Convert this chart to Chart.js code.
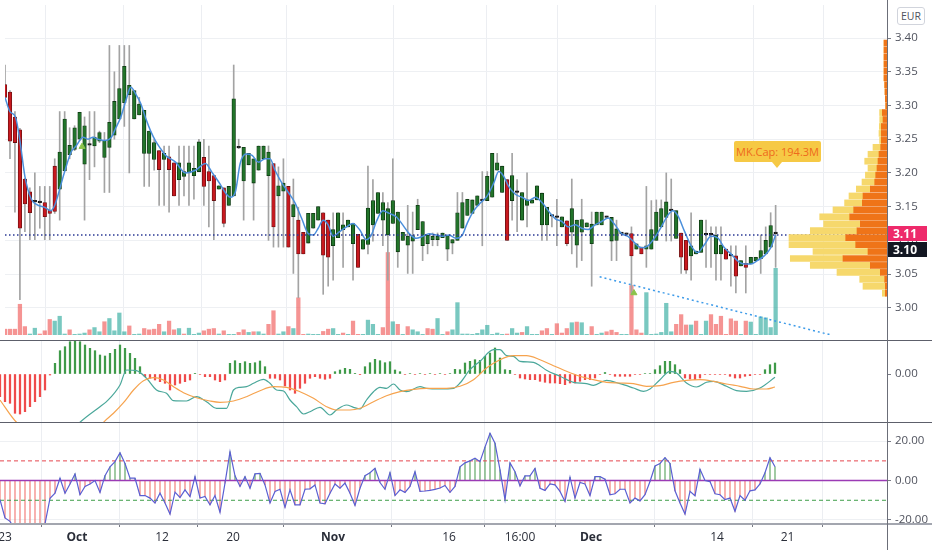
<!DOCTYPE html>
<html lang="en">
<head>
<meta charset="UTF-8">
<title>Chart</title>
<script src="https://cdn.jsdelivr.net/npm/chart.js"></script>
<style>
  html, body { margin: 0; padding: 0; background: #fff; }
  #wrap { position: relative; width: 932px; height: 550px; overflow: hidden; font-family: "Open Sans", Arial, sans-serif; }
  #wrap canvas { position: absolute; }
  .sep { position: absolute; left: 0; width: 932px; height: 1px; background: #5d606b; }
  .vsep { position: absolute; left: 887px; top: 0; width: 1px; height: 550px; background: #6b6e78; }
  .tag { position: absolute; left: 888px; width: 34px; height: 15px; line-height: 15px; padding-left: 5px; color: #fff; font-size: 12px; font-weight: bold; }
  #eur { position: absolute; left: 897px; top: 7px; width: 26px; height: 16px; line-height: 16px; border: 1px solid #d1d4dc; border-radius: 3px; text-align: center; font-size: 10.5px; color: #50535e; background: #fff; }
  #mkcap { position: absolute; left: 734px; top: 141px; width: 87px; height: 21px; line-height: 21px; background: #f6c945; color: #ee6a1c; font-size: 11px; text-align: center; border-radius: 2px; }
  #mkcap:after { content: ""; position: absolute; left: 38px; top: 21px; border-left: 5px solid transparent; border-right: 5px solid transparent; border-top: 6px solid #f6c945; }
</style>
</head>
<body>
<div id="wrap">
  <canvas id="mainChart" width="932" height="340" style="left:0;top:0"></canvas>
  <canvas id="profileChart" width="200" height="340" style="left:687px;top:0"></canvas>
  <canvas id="macdChart" width="932" height="81" style="left:0;top:341px"></canvas>
  <canvas id="oscChart" width="932" height="127" style="left:0;top:423px"></canvas>
  <div class="sep" style="top:340px"></div>
  <div class="sep" style="top:422px"></div>
  <div class="sep" style="top:523px;height:2px;background:#a3a6af"></div>
  <div class="vsep"></div>
  <div id="eur">EUR</div>
  <div id="mkcap">MK.Cap: 194.3M</div>
  <div class="tag" id="tagLast" style="background:#ee2a6b"></div>
  <div class="tag" id="tagClose" style="background:#131722"></div>
</div>

<script>
// time axis
const tickPos = [1, 15.4, 32.4, 46.6, 66.6, 89.8, 104, 118.2, 143.4, 157.5];
const tickLabels = ['23', 'Oct', '12', '20', 'Nov', '16', '16:00', 'Dec', '14', '21'];
const boldLabels = ['Oct', 'Nov', 'Dec'];
const priceTicks = [3.00, 3.05, 3.10, 3.15, 3.20, 3.25, 3.30, 3.35, 3.40];

// candles, one per bar
const candleOpen = [
  3.331, 3.32, 3.283, 3.264, 3.191, 3.172, 3.157, 3.156, 3.156, 3.145,
  3.21, 3.176, 3.203, 3.227, 3.235, 3.25, 3.213, 3.241, 3.24, 3.247,
  3.223, 3.238, 3.256, 3.28, 3.304, 3.316, 3.28, 3.286, 3.229, 3.229,
  3.22, 3.233, 3.22, 3.224, 3.215, 3.19, 3.195, 3.20, 3.196, 3.202,
  3.223, 3.202, 3.196, 3.176, 3.178, 3.152, 3.166, 3.237, 3.188, 3.212,
  3.185, 3.204, 3.221, 3.196, 3.214, 3.166, 3.173, 3.18, 3.135, 3.13,
  3.112, 3.096, 3.118, 3.13, 3.141, 3.13, 3.092, 3.104, 3.116, 3.12,
  3.095, 3.109, 3.087, 3.094, 3.123, 3.14, 3.13, 3.108, 3.125, 3.083,
  3.10, 3.093, 3.099, 3.116, 3.092, 3.095, 3.101, 3.101, 3.104, 3.087,
  3.096, 3.10, 3.118, 3.137, 3.14, 3.152, 3.159, 3.159, 3.164, 3.204,
  3.171, 3.19, 3.159, 3.171, 3.13, 3.152, 3.155, 3.16, 3.123, 3.123,
  3.136, 3.134, 3.12, 3.129, 3.112, 3.093, 3.112, 3.12, 3.095, 3.123,
  3.123, 3.134, 3.099, 3.10, 3.11, 3.109, 3.11, 3.087, 3.09, 3.087,
  3.087, 3.10, 3.12, 3.134, 3.144, 3.103, 3.111, 3.10, 3.077, 3.08,
  3.082, 3.108, 3.108, 3.08, 3.08, 3.087, 3.077, 3.077, 3.062, 3.066,
  3.065, 3.07, 3.073, 3.08, 3.09, 3.11
];
const candleHigh = [
  3.36, 3.322, 3.291, 3.266, 3.192, 3.178, 3.20, 3.18, 3.18, 3.18,
  3.221, 3.291, 3.291, 3.267, 3.27, 3.29, 3.283, 3.291, 3.291, 3.262,
  3.26, 3.389, 3.35, 3.389, 3.389, 3.389, 3.322, 3.312, 3.293, 3.262,
  3.25, 3.233, 3.24, 3.24, 3.215, 3.24, 3.24, 3.24, 3.24, 3.25,
  3.25, 3.24, 3.196, 3.181, 3.178, 3.18, 3.36, 3.25, 3.238, 3.229,
  3.221, 3.24, 3.24, 3.24, 3.214, 3.209, 3.221, 3.18, 3.191, 3.149,
  3.112, 3.14, 3.14, 3.15, 3.141, 3.13, 3.141, 3.141, 3.141, 3.13,
  3.125, 3.109, 3.101, 3.21, 3.19, 3.171, 3.171, 3.156, 3.221, 3.142,
  3.112, 3.152, 3.142, 3.161, 3.128, 3.108, 3.111, 3.111, 3.111, 3.107,
  3.101, 3.171, 3.171, 3.161, 3.16, 3.166, 3.202, 3.202, 3.229, 3.229,
  3.21, 3.19, 3.229, 3.19, 3.171, 3.20, 3.16, 3.181, 3.17, 3.149,
  3.136, 3.161, 3.135, 3.129, 3.191, 3.13, 3.161, 3.126, 3.142, 3.142,
  3.142, 3.136, 3.134, 3.13, 3.112, 3.111, 3.12, 3.095, 3.09, 3.18,
  3.159, 3.16, 3.16, 3.20, 3.191, 3.144, 3.111, 3.10, 3.141, 3.084,
  3.13, 3.13, 3.12, 3.12, 3.12, 3.087, 3.092, 3.092, 3.07, 3.092,
  3.075, 3.075, 3.108, 3.12, 3.141, 3.152
];
const candleLow = [
  3.31, 3.221, 3.142, 3.012, 3.113, 3.101, 3.101, 3.118, 3.101, 3.101,
  3.14, 3.13, 3.203, 3.221, 3.233, 3.248, 3.13, 3.19, 3.209, 3.245,
  3.171, 3.171, 3.25, 3.28, 3.269, 3.20, 3.28, 3.286, 3.18, 3.18,
  3.204, 3.152, 3.152, 3.142, 3.166, 3.152, 3.166, 3.152, 3.161, 3.202,
  3.152, 3.12, 3.101, 3.176, 3.12, 3.152, 3.166, 3.236, 3.13, 3.212,
  3.13, 3.204, 3.221, 3.10, 3.09, 3.09, 3.09, 3.09, 3.051, 3.015,
  3.08, 3.096, 3.118, 3.13, 3.02, 3.032, 3.041, 3.104, 3.06, 3.12,
  3.041, 3.06, 3.087, 3.08, 3.099, 3.14, 3.092, 3.041, 3.125, 3.06,
  3.10, 3.051, 3.051, 3.116, 3.07, 3.08, 3.092, 3.092, 3.104, 3.07,
  3.08, 3.10, 3.118, 3.137, 3.14, 3.152, 3.092, 3.159, 3.164, 3.204,
  3.171, 3.10, 3.13, 3.113, 3.13, 3.12, 3.155, 3.16, 3.10, 3.10,
  3.12, 3.092, 3.12, 3.092, 3.08, 3.06, 3.07, 3.12, 3.032, 3.123,
  3.123, 3.132, 3.07, 3.07, 3.108, 3.107, 3.02, 3.087, 3.08, 3.06,
  3.087, 3.10, 3.12, 3.099, 3.099, 3.103, 3.051, 3.051, 3.041, 3.08,
  3.082, 3.06, 3.06, 3.041, 3.041, 3.072, 3.032, 3.022, 3.062, 3.022,
  3.065, 3.07, 3.051, 3.08, 3.09, 3.06
];
const candleClose = [
  3.312, 3.247, 3.245, 3.118, 3.154, 3.141, 3.157, 3.156, 3.135, 3.14,
  3.143, 3.231, 3.28, 3.241, 3.267, 3.29, 3.27, 3.241, 3.253, 3.26,
  3.248, 3.275, 3.306, 3.325, 3.358, 3.33, 3.322, 3.302, 3.293, 3.262,
  3.245, 3.205, 3.229, 3.205, 3.166, 3.215, 3.202, 3.215, 3.207, 3.246,
  3.18, 3.188, 3.159, 3.181, 3.125, 3.18, 3.31, 3.237, 3.238, 3.229,
  3.221, 3.24, 3.24, 3.231, 3.12, 3.181, 3.185, 3.09, 3.153, 3.08,
  3.08, 3.14, 3.14, 3.15, 3.078, 3.075, 3.116, 3.141, 3.123, 3.13,
  3.125, 3.06, 3.101, 3.148, 3.159, 3.171, 3.156, 3.147, 3.159, 3.142,
  3.112, 3.106, 3.107, 3.152, 3.128, 3.108, 3.106, 3.106, 3.111, 3.107,
  3.101, 3.141, 3.156, 3.161, 3.16, 3.166, 3.159, 3.195, 3.229, 3.215,
  3.21, 3.10, 3.196, 3.171, 3.171, 3.16, 3.16, 3.181, 3.17, 3.149,
  3.136, 3.134, 3.135, 3.095, 3.147, 3.13, 3.131, 3.126, 3.124, 3.142,
  3.142, 3.134, 3.134, 3.117, 3.11, 3.109, 3.077, 3.095, 3.08, 3.092,
  3.116, 3.142, 3.147, 3.157, 3.144, 3.144, 3.075, 3.056, 3.092, 3.084,
  3.13, 3.108, 3.108, 3.108, 3.093, 3.072, 3.077, 3.047, 3.07, 3.06,
  3.075, 3.075, 3.085, 3.10, 3.122, 3.11
];

// volume per bar and its side (u = buying, d = selling)
const volume = [
  18, 18, 18, 95, 26, 3, 21, 3, 13, 48,
  43, 58, 3, 16, 2, 3, 6, 16, 23, 10,
  41, 51, 13, 68, 10, 28, 2, 3, 20, 16,
  18, 33, 10, 43, 16, 20, 3, 21, 2, 6,
  13, 18, 20, 3, 13, 2, 2, 8, 16, 8,
  10, 10, 3, 33, 75, 3, 10, 26, 20, 115,
  2, 3, 2, 2, 11, 18, 20, 2, 6, 2,
  43, 2, 2, 46, 33, 2, 23, 255, 41, 33,
  2, 26, 16, 10, 2, 20, 18, 51, 2, 10,
  16, 100, 3, 3, 2, 5, 16, 30, 2, 6,
  2, 3, 20, 6, 8, 26, 2, 2, 13, 20,
  2, 35, 6, 20, 38, 40, 38, 2, 26, 2,
  6, 10, 15, 8, 2, 2, 153, 16, 6, 131,
  2, 3, 8, 98, 10, 33, 63, 31, 31, 43,
  2, 43, 63, 33, 58, 2, 50, 43, 2, 43,
  40, 2, 56, 53, 23, 206
];
const volumeSide = ('ddddduuddd' + 'uuuduuuduu' + 'duuuuduudd' + 'ddudduduuu' +
  'ddduduuddu' + 'duudduudud' + 'duuudduudu' + 'dduuuuddud' +
  'uduuudduud' + 'uuuuuuuuuu' + 'uduuduuudd' + 'uddduduudu' +
  'uddduudddu' + 'uuuuudddud' + 'uuddddddud' + 'uuuuuu').split('');

// moving average over the candles, read at [bar, price]
const maLine = [
  [0, 3.312], [1, 3.291], [2.1, 3.283], [3, 3.248], [4, 3.195], [5.3, 3.161], [6.7, 3.152], [8, 3.149],
  [9.2, 3.144], [10, 3.152], [11, 3.176], [12, 3.202], [13.3, 3.231], [14.3, 3.24], [15.7, 3.253],
  [16.7, 3.25], [17.7, 3.253], [18.7, 3.25], [20, 3.248], [21.3, 3.252], [22.3, 3.267], [23.3, 3.283],
  [24.3, 3.307], [25.3, 3.327], [26.3, 3.317], [27.3, 3.303], [28.3, 3.281], [29.3, 3.262], [30.3, 3.247],
  [31.3, 3.236], [32.3, 3.226], [34.3, 3.216], [36.3, 3.20], [38.3, 3.204], [40.3, 3.214], [41.7, 3.20],
  [43.3, 3.183], [44.3, 3.171], [45.3, 3.164], [46.3, 3.171], [47.3, 3.214], [48.5, 3.228], [49.7, 3.226],
  [51, 3.216], [52.3, 3.221], [53.3, 3.221], [54.3, 3.204], [55.7, 3.185], [57, 3.171], [58.3, 3.156],
  [59.7, 3.132], [61, 3.11], [62, 3.108], [63, 3.118], [64, 3.13], [65, 3.123], [66, 3.106], [67.3, 3.113],
  [68.7, 3.12], [70, 3.125], [71.3, 3.116], [72.7, 3.101], [73.7, 3.108], [74.7, 3.128], [76, 3.144],
  [77.3, 3.14], [78.7, 3.135], [80, 3.123], [81.3, 3.11], [82.7, 3.103], [84, 3.106], [85.3, 3.11],
  [86.7, 3.108], [88, 3.106], [89.3, 3.108], [90.7, 3.103], [92, 3.108], [93, 3.126], [94.3, 3.144],
  [95.7, 3.156], [97, 3.166], [98.3, 3.185], [99.3, 3.202], [100.3, 3.195], [101.3, 3.18], [102.7, 3.168],
  [104, 3.164], [105.3, 3.159], [106.7, 3.164], [108, 3.156], [109.7, 3.14], [110.7, 3.132], [112, 3.128],
  [113.3, 3.12], [114.7, 3.123], [116, 3.118], [117.3, 3.116], [118.7, 3.123], [120, 3.128], [121.3, 3.133],
  [122.7, 3.123], [124, 3.11], [125.3, 3.106], [126.7, 3.096], [128, 3.089], [129.3, 3.092], [130.7, 3.104],
  [132, 3.12], [133.3, 3.137], [134.3, 3.144], [135.3, 3.137], [136.7, 3.113], [138, 3.092], [139.3, 3.082],
  [140.7, 3.094], [142, 3.106], [143.3, 3.104], [144.7, 3.089], [146, 3.08], [147.3, 3.07], [148.7, 3.065],
  [150, 3.065], [151.3, 3.07], [152.7, 3.077], [154, 3.089], [155, 3.108]
];

// price marks
const lastPrice = 3.11;
const closeLabel = 3.10;
const priceLine = 3.108;
const trendLine = [[119.6, 3.046], [166, 2.96]];
const signalMarks = [[15.5, 3.239], [126.5, 3.022]];

// volume profile rows: price, up part (orange), down part (yellow)
const profilePrice = [
  3.387, 3.377, 3.367, 3.357, 3.347, 3.337, 3.327, 3.317, 3.307, 3.297,
  3.287, 3.277, 3.267, 3.257, 3.247, 3.237, 3.227, 3.217, 3.207, 3.197,
  3.187, 3.177, 3.167, 3.157, 3.147, 3.137, 3.127, 3.117, 3.107, 3.097,
  3.087, 3.077, 3.067, 3.057, 3.047, 3.037, 3.027
];
const profileUp = [
  3, 3, 3, 3, 3, 3, 2.3, 2, 1.7, 1.3,
  4.7, 4, 5.7, 5.7, 5.7, 6.3, 8, 9, 10, 11.3,
  12.3, 16.7, 24, 24.7, 33.3, 37.3, 26.7, 30, 41.3, 31.3,
  19, 44, 16.7, 6.7, 2.3, 1.7, 1.7
];
const profileDown = [
  0, 0, 0, 0, 0, 0, 0, 0, 0, 0,
  2.7, 3.3, 2, 2.3, 1.7, 7.7, 11, 13.3, 9, 10.3,
  12.7, 14, 14, 17.7, 20.7, 30, 36.7, 46.7, 56.7, 66.7,
  55, 52.7, 60, 43.3, 25, 22.3, 3
];

// MACD pane
const macdHist = [
  -0.0227, -0.0277, -0.0293, -0.0393, -0.0400, -0.0377, -0.0327, -0.0277, -0.0227, -0.0160,
  -0.0010, 0.0107, 0.0233, 0.0273, 0.0323, 0.0340, 0.0323, 0.0290, 0.0257, 0.0233,
  0.0190, 0.0180, 0.0207, 0.0247, 0.0290, 0.0257, 0.0207, 0.0157, 0.0073, -0.0027,
  -0.0043, -0.0060, -0.0077, -0.0093, -0.0160, -0.0110, -0.0093, -0.0077, -0.0060, 0.0007,
  -0.0005, -0.0027, -0.0027, -0.0060, -0.0077, -0.0060, 0.0107, 0.0133, 0.0107, 0.0123,
  0.0107, 0.0113, 0.0130, 0.0073, -0.0043, -0.0043, -0.0060, -0.0120, -0.0160, -0.0193,
  -0.0143, -0.0093, -0.0043, -0.0027, -0.0043, -0.0053, -0.0043, 0.0023, 0.0040, 0.0057,
  0.0047, 0.0007, -0.0003, 0.0073, 0.0113, 0.0147, 0.0133, 0.0113, 0.0123, 0.0040,
  0.0023, -0.0005, 0.0005, -0.0005, 0.0005, -0.0005, 0.0005, -0.0005, 0.0005, -0.0005,
  0.0005, 0.0047, 0.0043, 0.0110, 0.0127, 0.0143, 0.0137, 0.0177, 0.0210, 0.0260,
  0.0160, 0.0043, 0.0037, -0.0005, -0.0040, -0.0050, -0.0057, -0.0057, -0.0073, -0.0083,
  -0.0090, -0.0090, -0.0097, -0.0107, -0.0090, -0.0090, -0.0073, -0.0057, -0.0057, -0.0040,
  -0.0005, 0.0015, -0.0005, -0.0023, -0.0023, -0.0023, -0.0023, -0.0005, -0.0005, 0.0005,
  0.0005, 0.0043, 0.0083, 0.0127, 0.0127, 0.0093, 0.0043, -0.0040, -0.0050, -0.0057,
  -0.0040, -0.0005, -0.0005, -0.0005, -0.0005, -0.0005, -0.0023, -0.0040, -0.0040, -0.0023,
  -0.0017, -0.0005, -0.0005, 0.0043, 0.0093, 0.0110
];
const macdLine = [
  [0, -0.0487], [4, -0.075], [8, -0.082], [12, -0.070], [16, -0.0483], [20, -0.0327], [21.3, -0.0277],
  [24, -0.011], [25.3, 0.004], [27.3, 0.0033], [29.3, -0.0043], [31.3, -0.016], [33.3, -0.0193],
  [34.7, -0.0267], [37.3, -0.027], [39.3, -0.0227], [41.3, -0.0277], [43.3, -0.0343], [45.3, -0.0343],
  [46.7, -0.016], [48, -0.0133], [49.3, -0.0127], [50.7, -0.0093], [52.7, -0.0053], [54, -0.0093],
  [55.3, -0.016], [56.7, -0.017], [58, -0.026], [59.3, -0.0327], [60.7, -0.040], [62, -0.0377],
  [64, -0.0333], [66, -0.041], [67.3, -0.036], [69.3, -0.031], [70.7, -0.0333], [72, -0.035],
  [73.3, -0.026], [74.7, -0.0177], [76, -0.0133], [77.3, -0.0143], [78.7, -0.010], [80, -0.016],
  [81.3, -0.0177], [84, -0.0127], [85.3, -0.0143], [88, -0.015], [90.7, -0.0143], [92, -0.009],
  [94, 0.0043], [96, 0.0127], [98.7, 0.0243], [100, 0.0243], [101.3, 0.0183], [102.7, 0.0177],
  [104, 0.0127], [106.7, 0.0117], [108, 0.0083], [109.3, 0.0037], [112, -0.0023], [114.7, -0.0083],
  [117.3, -0.0097], [118.7, -0.0113], [121.3, -0.0063], [124, -0.0097], [126.7, -0.014], [128.7, -0.0173],
  [130, -0.015], [132, -0.0057], [134, 0.0027], [135.3, 0.001], [137.3, -0.009], [139.3, -0.013],
  [141.3, -0.0083], [142.7, -0.0073], [145.3, -0.0123], [147.3, -0.0167], [149.3, -0.0173], [152, -0.014],
  [155, -0.0033]
];
const signalLine = [
  [0, -0.026], [3.3, -0.0483], [8, -0.062], [12, -0.085], [16, -0.080], [20.7, -0.0483], [22.7, -0.0393],
  [24.7, -0.0287], [26.7, -0.016], [28.7, -0.0067], [30.7, -0.0037], [32.7, -0.006], [34.7, -0.0127],
  [36.7, -0.0187], [39.3, -0.0237], [42, -0.027], [44, -0.0283], [46.7, -0.027], [49.3, -0.0227],
  [52, -0.0167], [54.7, -0.0127], [57.3, -0.0133], [60, -0.0177], [62.7, -0.0243], [65.3, -0.0327],
  [67.3, -0.036], [70, -0.036], [72, -0.0343], [74.7, -0.0277], [77.3, -0.0217], [80, -0.0177],
  [82.7, -0.0153], [85.3, -0.0143], [89.3, -0.0143], [92, -0.0123], [94.7, -0.0057], [97.3, 0.006],
  [100, 0.0143], [102.7, 0.0183], [105.3, 0.0183], [108, 0.0143], [110.7, 0.0083], [113.3, 0.0027],
  [116, -0.0023], [118.7, -0.0057], [121.3, -0.0083], [124, -0.009], [126.7, -0.0097], [129.3, -0.0123],
  [132, -0.0117], [134.7, -0.0083], [137.3, -0.0063], [140, -0.0057], [142.7, -0.0073], [145.3, -0.010],
  [148, -0.0123], [150.7, -0.015], [153.3, -0.015], [155, -0.013]
];

// oscillator pane
const oscValues = [
  -9.7, -19, -20.7, -25, -27, -28, -26, -25, -24, -22,
  -9, -6.4, 1.2, -6.4, -1.7, 3.4, -7.2, -3, -1.7, 0,
  -6, 2.5, 7, 9.6, 14.1, 8.7, 1.2, 1.2, -7.6, -7.6,
  -8.9, -11.4, -6.4, -11.4, -17, -5.9, -8.6, -4.7, -8.1, 2,
  -8.9, -8.1, -12.3, -7.6, -16.1, -1.3, 14.6, 2.4, -3, 2,
  -3.9, 3.4, 3.7, -2.2, -11.4, -5.5, -4.4, -13.6, -4.7, -12.3,
  -12.3, -4.4, -4.2, -2.2, -11.4, -11.8, -6.4, -1.7, -3.9, -1.3,
  -6.4, -12.6, -3.9, 2.5, 4, 6.2, -1, -4.4, 4, -7.6,
  -4.7, -6, -3, 4.5, -5.5, -5.3, -5, -4.5, -3.8, -2.5,
  -6, -3, 7, 9, 10, 11.3, 9.6, 17, 24, 19,
  5.4, -9.7, 9, 4.5, -2.7, 2.4, 2.4, 6.2, -3.9, -5,
  -1.7, -2.2, -5.5, -10.6, 1.7, -8.9, -1, -1.7, -7.6, 2,
  2, 0.7, -7.2, -6.7, -4.4, -4.4, -11.4, -8.9, -10.3, -7.2,
  -0.5, 7.4, 8.7, 11.6, 8.7, -5.2, -11.4, -17, -5.5, -7.7,
  5.7, 0, -0.5, -6.7, -7.2, -9.7, -8.9, -15.6, -7.6, -10,
  -5.2, -4.7, -1.7, 4, 11.6, 7
];
const oscUpper = 10;
const oscLower = -10;
const oscTicks = [-20, 0, 20];

const X_MAX = 177.4;

function xScale(withLabels) {
  return {
    type: 'linear',
    min: 0,
    max: X_MAX,
    offset: false,
    afterBuildTicks: s => { s.ticks = tickPos.map(v => ({ value: v })); },
    afterFit: s => {
      s.paddingLeft = 0;
      s.paddingRight = 0;
      s.height = withLabels ? 27 : 0;
    },
    grid: { color: '#eceef2', drawTicks: withLabels, tickLength: 4, tickColor: '#787b86' },
    border: { display: false },
    ticks: {
      display: withLabels,
      autoSkip: false,
      maxRotation: 0,
      padding: 3,
      color: '#2a2e39',
      font: c => ({ size: 12, weight: boldLabels.includes(tickLabels[c.index]) ? 'bold' : 'normal' }),
      callback: (v, i) => tickLabels[i]
    }
  };
}

function yScale(min, max, ticks, gridColor) {
  return {
    position: 'right',
    min: min,
    max: max,
    afterBuildTicks: s => { s.ticks = ticks.map(v => ({ value: v })); },
    afterFit: s => { s.width = 45; s.paddingTop = 0; s.paddingBottom = 0; },
    grid: { color: gridColor, drawTicks: true, tickLength: 4, tickColor: '#787b86' },
    border: { display: false },
    ticks: { padding: 4, color: '#50535e', font: { size: 11.5 }, callback: v => v.toFixed(2) }
  };
}

Chart.defaults.font.family = '"Open Sans", Arial, sans-serif';
Chart.defaults.animation = false;
Chart.defaults.plugins.legend.display = false;
Chart.defaults.plugins.tooltip.enabled = false;

const bars = candleOpen.map((o, i) => i);
const isDoji = i => candleOpen[i] === candleClose[i];
const isUp = i => candleClose[i] > candleOpen[i];

const mainChart = new Chart(document.getElementById('mainChart'), {
  type: 'bar',
  data: {
    datasets: [
      {
        label: 'Volume',
        yAxisID: 'yv',
        data: bars.map(i => ({ x: i, y: volume[i] })),
        backgroundColor: bars.map(i => volumeSide[i] === 'u' ? 'rgba(38,166,154,0.62)' : 'rgba(239,83,80,0.62)'),
        barThickness: 3.6,
        grouped: false,
        order: 10
      },
      {
        label: 'Wick',
        data: bars.map(i => ({ x: i, y: [candleLow[i], candleHigh[i]] })),
        backgroundColor: '#a3a3a3',
        barThickness: 1,
        grouped: false,
        order: 6
      },
      {
        label: 'Body',
        data: bars.map(i => ({ x: i, y: [Math.min(candleOpen[i], candleClose[i]), Math.max(candleOpen[i], candleClose[i])] })),
        backgroundColor: bars.map(i => isDoji(i) ? '#111' : (isUp(i) ? '#22742a' : '#c8191f')),
        borderColor: bars.map(i => isDoji(i) ? '#111' : (isUp(i) ? '#0c3510' : '#6a0f10')),
        borderWidth: 0.8,
        borderSkipped: false,
        minBarLength: 1.6,
        barThickness: 3.6,
        grouped: false,
        order: 5
      },
      {
        type: 'line',
        label: 'MA',
        data: maLine.map(p => ({ x: p[0], y: p[1] })),
        borderColor: '#4b8fdb',
        borderWidth: 1.5,
        pointRadius: 0,
        cubicInterpolationMode: 'monotone',
        order: 3
      },
      {
        type: 'line',
        label: 'Price line',
        data: [{ x: 0, y: priceLine }, { x: X_MAX, y: priceLine }],
        borderColor: '#2b3a94',
        borderWidth: 1.3,
        borderDash: [1.5, 2.5],
        pointRadius: 0,
        order: 2
      },
      {
        type: 'line',
        label: 'Trend',
        data: trendLine.map(p => ({ x: p[0], y: p[1] })),
        borderColor: '#3d9be9',
        borderWidth: 1.5,
        borderDash: [2, 3],
        pointRadius: 0,
        order: 2
      },
      {
        type: 'scatter',
        label: 'Signal',
        data: signalMarks.map(p => ({ x: p[0], y: p[1] })),
        pointStyle: 'triangle',
        pointRadius: 3.5,
        backgroundColor: '#8bc34a',
        borderColor: '#8bc34a',
        order: 1
      }
    ]
  },
  options: {
    responsive: false,
    layout: { padding: 0 },
    scales: {
      x: xScale(false),
      y: yScale(2.9597, 3.449, priceTicks, '#eef0f3'),
      yv: { display: false, min: 0, max: 1020 }
    }
  }
});

new Chart(document.getElementById('profileChart'), {
  type: 'bar',
  data: {
    datasets: [
      {
        label: 'Up',
        data: profilePrice.map((p, k) => ({ x: profileUp[k], y: p })),
        backgroundColor: '#ef7418',
        barThickness: 6
      },
      {
        label: 'Down',
        data: profilePrice.map((p, k) => ({ x: profileDown[k], y: p })),
        backgroundColor: '#f6d86c',
        barThickness: 6
      }
    ]
  },
  options: {
    responsive: false,
    indexAxis: 'y',
    layout: { padding: 0 },
    scales: {
      x: { type: 'linear', display: false, reverse: true, min: 0, max: 200, stacked: true },
      y: { type: 'linear', display: false, min: 2.9597, max: 3.449, stacked: true, offset: false }
    }
  }
});

new Chart(document.getElementById('macdChart'), {
  type: 'bar',
  data: {
    datasets: [
      {
        label: 'Histogram',
        data: bars.map(i => ({ x: i, y: macdHist[i] })),
        backgroundColor: bars.map(i => macdHist[i] >= 0 ? '#3f9a49' : '#ef4b4b'),
        barThickness: 1.6,
        grouped: false,
        order: 3
      },
      {
        type: 'line',
        label: 'MACD',
        data: macdLine.map(p => ({ x: p[0], y: p[1] })),
        borderColor: '#4aa79a',
        borderWidth: 1.2,
        pointRadius: 0,
        cubicInterpolationMode: 'monotone',
        order: 2
      },
      {
        type: 'line',
        label: 'Signal',
        data: signalLine.map(p => ({ x: p[0], y: p[1] })),
        borderColor: '#f6a34e',
        borderWidth: 1.2,
        pointRadius: 0,
        cubicInterpolationMode: 'monotone',
        order: 1
      }
    ]
  },
  options: {
    responsive: false,
    layout: { padding: 0 },
    scales: {
      x: xScale(false),
      y: yScale(-0.048, 0.033, [0], 'rgba(0,0,0,0)')
    }
  }
});

new Chart(document.getElementById('oscChart'), {
  type: 'bar',
  data: {
    datasets: [
      {
        label: 'Histogram',
        data: bars.map(i => ({ x: i, y: oscValues[i] })),
        backgroundColor: bars.map(i => oscValues[i] >= 0 ? 'rgba(67,150,72,0.6)' : 'rgba(239,83,80,0.55)'),
        barThickness: 1,
        grouped: false,
        order: 5
      },
      {
        type: 'line',
        label: 'Upper',
        data: [{ x: 0, y: oscUpper }, { x: X_MAX, y: oscUpper }],
        borderColor: '#e5464d',
        borderWidth: 1,
        borderDash: [4, 3],
        pointRadius: 0,
        order: 3
      },
      {
        type: 'line',
        label: 'Lower',
        data: [{ x: 0, y: oscLower }, { x: X_MAX, y: oscLower }],
        borderColor: '#3f9e4a',
        borderWidth: 1,
        borderDash: [4, 3],
        pointRadius: 0,
        order: 3
      },
      {
        type: 'line',
        label: 'Zero',
        data: [{ x: 0, y: 0 }, { x: X_MAX, y: 0 }],
        borderColor: '#9b3bb5',
        borderWidth: 1.4,
        pointRadius: 0,
        order: 2
      },
      {
        type: 'line',
        label: 'Oscillator',
        data: bars.map(i => ({ x: i, y: oscValues[i] })),
        borderColor: '#5a5fd3',
        borderWidth: 1.2,
        pointRadius: 0,
        order: 1
      }
    ]
  },
  options: {
    responsive: false,
    layout: { padding: 0 },
    scales: {
      x: xScale(true),
      y: yScale(-21.54, 29.23, oscTicks, '#eef0f3')
    }
  }
});

// price tags on the axis
const yLast = mainChart.scales.y.getPixelForValue(lastPrice);
const tagLast = document.getElementById('tagLast');
tagLast.textContent = lastPrice.toFixed(2);
tagLast.style.top = (yLast - 7.5) + 'px';
const tagClose = document.getElementById('tagClose');
tagClose.textContent = closeLabel.toFixed(2);
tagClose.style.top = (yLast + 8.5) + 'px';
</script>
</body>
</html>
